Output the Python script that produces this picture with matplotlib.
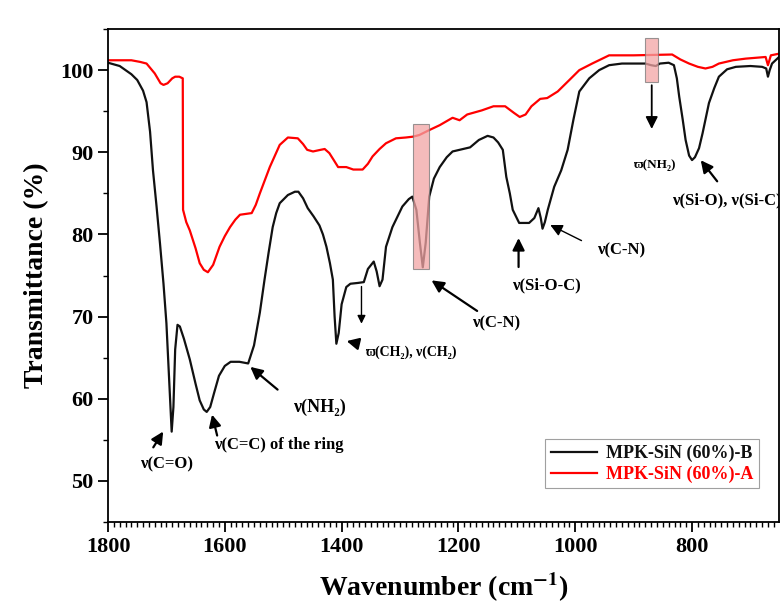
import matplotlib
matplotlib.use("Agg")
import matplotlib.pyplot as plt
from matplotlib.patches import Rectangle
from matplotlib.ticker import MultipleLocator

plt.rcParams['font.family'] = ['Liberation Serif', 'DejaVu Serif']
plt.rcParams['font.weight'] = 'bold'
plt.rcParams['mathtext.fontset'] = 'stix'

# MPK-SiN (60%)-B  (black)
wn_b = [1800, 1780, 1760, 1750, 1740, 1734, 1728, 1723, 1717, 1711, 1705, 1700, 1695, 1691,
        1688, 1685, 1681, 1677, 1670, 1660, 1650, 1643, 1636, 1631, 1625, 1618, 1610, 1600,
        1590, 1575, 1560, 1550, 1540, 1532, 1525, 1518, 1512, 1506, 1492, 1480, 1474, 1466,
        1458, 1448, 1438, 1432, 1426, 1420, 1415, 1412, 1409, 1405, 1400, 1392, 1385, 1372,
        1362, 1355, 1345, 1340, 1335, 1330, 1324, 1313, 1296, 1285, 1279, 1272, 1266, 1261,
        1256, 1250, 1242, 1232, 1220, 1210, 1198, 1180, 1165, 1150, 1140, 1132, 1124, 1118,
        1112, 1107, 1096, 1079, 1070, 1063, 1059, 1056, 1052, 1047, 1036, 1024, 1013, 1003,
        993, 976, 959, 942, 920, 880, 870, 862, 855, 840, 831, 826, 822, 816, 811, 805, 800,
        795, 788, 782, 776, 771, 762, 754, 740, 725, 700, 680, 673, 670, 667, 663, 651]
tr_b = [100.9, 100.5, 99.5, 98.8, 97.5, 96.1, 92.5, 87.8, 83.5, 78.9, 74.0, 69.2, 62.0, 56.0,
        59.0, 66.0, 69.0, 68.8, 67.3, 64.8, 61.8, 59.8, 58.7, 58.4, 59.0, 60.8, 62.8, 64.0,
        64.5, 64.5, 64.3, 66.5, 70.5, 74.5, 77.8, 80.9, 82.6, 83.8, 84.8, 85.2, 85.2, 84.4,
        83.2, 82.2, 81.1, 80.0, 78.5, 76.5, 74.5, 70.0, 66.7, 68.0, 71.5, 73.6, 74.0, 74.1,
        74.2, 75.8, 76.7, 75.5, 73.7, 74.5, 78.5, 80.9, 83.4, 84.3, 84.6, 83.0, 79.0, 76.0,
        79.0, 84.6, 86.8, 88.2, 89.4, 90.1, 90.3, 90.6, 91.5, 92.0, 91.8, 91.2, 90.3, 87.0,
        85.0, 83.0, 81.4, 81.4, 82.0, 83.2, 82.0, 80.7, 81.5, 83.0, 85.8, 87.8, 90.3, 94.0,
        97.4, 99.0, 100.0, 100.6, 100.8, 100.8, 100.6, 100.5, 100.8, 100.9, 100.6, 99.0, 96.8,
        94.0, 91.5, 89.6, 89.05, 89.4, 90.5, 92.3, 94.3, 96.0, 97.8, 99.2, 100.1, 100.4, 100.5,
        100.4, 100.2, 99.2, 100.0, 100.8, 101.6]

# MPK-SiN (60%)-A  (red)
wn_a = [1800, 1760, 1745, 1734, 1720, 1710, 1705, 1698, 1690, 1685, 1678, 1672, 1671.5, 1666,
        1660, 1650, 1643, 1636, 1629, 1620, 1609, 1600, 1591, 1582, 1574, 1554, 1547, 1540,
        1523, 1506, 1492, 1475, 1466, 1459, 1449, 1436, 1429, 1421, 1413, 1406, 1392, 1380,
        1364, 1355, 1347, 1335, 1324, 1307, 1290, 1278, 1267, 1250, 1232, 1215, 1210, 1198,
        1185, 1160, 1140, 1120, 1105, 1095, 1085, 1075, 1060, 1048, 1030, 1010, 993, 971, 942,
        900, 834, 820, 805, 790, 777, 765, 754, 730, 708, 674, 670, 665, 651]
tr_a = [101.2, 101.2, 101.0, 100.8, 99.6, 98.4, 98.2, 98.4, 99.0, 99.2, 99.2, 99.0, 83.0, 81.5,
        80.5, 78.3, 76.5, 75.7, 75.4, 76.3, 78.5, 79.8, 80.9, 81.8, 82.4, 82.6, 83.6, 85.0,
        88.2, 90.9, 91.8, 91.7, 91.0, 90.3, 90.1, 90.3, 90.4, 89.9, 89.0, 88.2, 88.2, 87.9,
        87.9, 88.6, 89.5, 90.4, 91.1, 91.7, 91.8, 91.9, 92.1, 92.7, 93.3, 94.0, 94.2, 93.9,
        94.6, 95.1, 95.6, 95.6, 94.8, 94.3, 94.6, 95.6, 96.5, 96.6, 97.4, 98.8, 100.0, 100.8,
        101.8, 101.8, 101.9, 101.3, 100.8, 100.4, 100.2, 100.4, 100.8, 101.2, 101.4, 101.6,
        100.6, 101.8, 102.0]

# band labels: text, text x, text y, fontsize, arrow tail, arrow head, arrow width
labels = [
    ("ν(C=O)", 1700, 52.0, 12, (1725, 53.8), (1703, 56.3), 1.6),
    ("ν(C=C) of the ring", 1508, 54.4, 12, (1612, 55.2), (1623, 58.4), 1.6),
    ("ν(NH₂)", 1438, 59.0, 13, (1506, 60.9), (1560, 64.1), 1.6),
    ("ϖ(CH₂), ν(CH₂)", 1281, 65.7, 10, (1372, 66.7), (1396, 67.1), 1.6),
    ("ν(C-N)", 1135, 69.2, 12, (1164, 70.5), (1250, 74.6), 1.6),
    ("ν(Si-O-C)", 1050, 73.8, 12, (1097, 75.7), (1097, 79.9), 1.6),
    ("ν(C-N)", 921, 78.1, 12, (985, 79.1), (1047, 81.3), 1.0),
    ("ϖ(NH₂)", 865, 88.4, 9.5, (869, 98.5), (869, 92.5), 1.3),
    ("ν(Si-O), ν(Si-C)", 741, 84.2, 12, (754, 86.2), (788, 89.3), 1.6),
]
extra_arrow = ((1366, 74.0), (1366, 68.8))
highlight = [(1278, 1251, 75.8, 93.5), (881, 858, 98.5, 103.9)]

fig = plt.figure(figsize=(7.81, 6.14), dpi=100)
ax = fig.add_axes([0.1383, 0.1498, 0.8592, 0.8029])

ax.plot(wn_b, tr_b, color='#111111', lw=1.6, label='MPK-SiN (60%)-B')
ax.plot(wn_a, tr_a, color='#ff0000', lw=1.6, label='MPK-SiN (60%)-A')

for x1, x2, y1, y2 in highlight:
    ax.add_patch(Rectangle((x2, y1), x1 - x2, y2 - y1, facecolor='#f2a5a5', alpha=0.75,
                           edgecolor='#777777', lw=0.8, zorder=3))

for txt, tx, ty, fs, tail, head, w in labels:
    ax.text(tx, ty, txt, fontsize=fs, ha='center', va='center', clip_on=True)
    ax.annotate('', xy=head, xytext=tail,
                arrowprops=dict(arrowstyle='-|>', color='k', lw=w, mutation_scale=18))
ax.annotate('', xy=extra_arrow[1], xytext=extra_arrow[0],
            arrowprops=dict(arrowstyle='-|>', color='k', lw=1.0, mutation_scale=12))

ax.set_xlim(1800, 651)
ax.set_ylim(45, 105)
ax.xaxis.set_major_locator(MultipleLocator(200))
ax.xaxis.set_minor_locator(MultipleLocator(10))
ax.yaxis.set_major_locator(MultipleLocator(10))
ax.yaxis.set_minor_locator(MultipleLocator(5))
ax.yaxis.set_major_formatter(matplotlib.ticker.FormatStrFormatter('%d'))
ax.tick_params(which='major', direction='out', length=7, width=1.3, labelsize=16)
ax.tick_params(which='minor', direction='out', length=3.5, width=1.0)
ax.tick_params(top=False, right=False)
for s in ax.spines.values():
    s.set_linewidth(1.3)

ax.set_xlabel(r'Wavenumber (cm$^{\mathbf{-1}}$)', fontsize=20, fontweight='bold', labelpad=10)
ax.set_ylabel('Transmittance (%)', fontsize=20, fontweight='bold', labelpad=8)

leg = ax.legend(loc='lower right', bbox_to_anchor=(0.984, 0.05), fontsize=13, frameon=True,
                fancybox=False, edgecolor='#888888', handlelength=2.6, borderpad=0.3,
                labelspacing=0.2, handletextpad=0.5)
leg.get_frame().set_linewidth(0.8)
for line, text in zip(leg.get_lines(), leg.get_texts()):
    text.set_color(line.get_color())

plt.savefig('out.png', dpi=100)
